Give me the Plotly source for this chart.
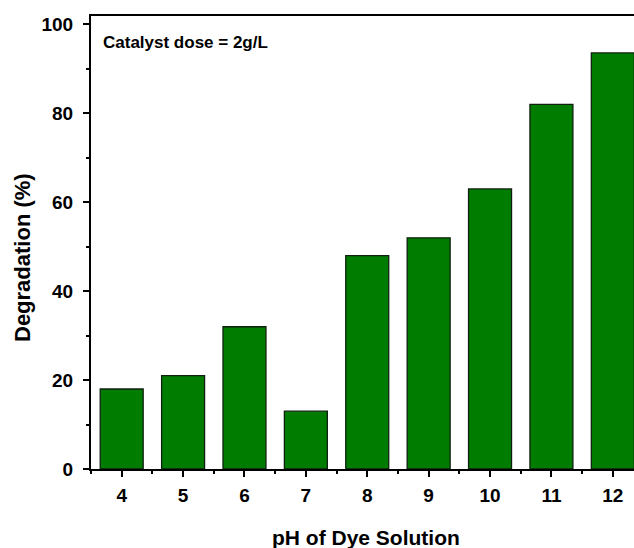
import plotly.graph_objects as go

ph_values = [4, 5, 6, 7, 8, 9, 10, 11, 12]
degradation = [18, 21, 32, 13, 48, 52, 63, 82, 93.6]
y_ticks = [0, 20, 40, 60, 80, 100]

W, H = 634, 548
ml, mt, mb, mr = 91, 16, 79, 0

fig = go.Figure()
fig.add_trace(go.Bar(
    x=ph_values, y=degradation, width=0.7,
    marker=dict(color="#007C00", line=dict(color="#102010", width=1.3)),
))

fam = "Liberation Sans, Arial, sans-serif"

fig.update_layout(
    width=W, height=H,
    margin=dict(l=ml, r=mr, t=mt, b=mb),
    plot_bgcolor="white", paper_bgcolor="white",
    showlegend=False,
    font=dict(family=fam, color="black"),
    xaxis=dict(
        range=[3.5, 12.345], tickvals=ph_values,
        ticktext=[f"<b>{v}</b>" for v in ph_values],
        showline=True, linecolor="black", linewidth=2, mirror=True,
        ticks="outside", ticklen=6, tickwidth=2, tickcolor="black",
        minor=dict(tickvals=[v + 0.5 for v in ph_values[:-1]] + [3.5], ticks="outside",
                   ticklen=3, tickwidth=2, tickcolor="black"),
        showgrid=False, zeroline=False, ticklabelstandoff=2,
        tickfont=dict(size=19, family=fam, color="black"),
    ),
    yaxis=dict(
        range=[0, 101.9], tickvals=y_ticks,
        ticktext=[f"<b>{v}</b>" for v in y_ticks],
        showline=True, linecolor="black", linewidth=2, mirror=False,
        ticks="outside", ticklen=6, tickwidth=2, tickcolor="black",
        minor=dict(tickvals=[10, 30, 50, 70, 90], ticks="outside",
                   ticklen=3, tickwidth=2, tickcolor="black"),
        showgrid=False, zeroline=False, ticklabelstandoff=6,
        tickfont=dict(size=19, family=fam, color="black"),
    ),
)

ph_ = H - mt - mb
fig.add_annotation(
    text="<b>Catalyst dose = 2g/L</b>", xref="paper", yref="paper",
    x=(101 - ml) / (W - ml - mr), y=1 - (43 - mt) / ph_,
    xanchor="left", yanchor="middle", showarrow=False,
    font=dict(size=17, family=fam, color="black"),
)
fig.add_annotation(
    text="<b>pH of Dye Solution</b>", xref="paper", yref="paper",
    x=(366 - ml) / (W - ml - mr), y=-(537 - (H - mb)) / ph_,
    xanchor="center", yanchor="middle", showarrow=False,
    font=dict(size=21, family=fam, color="black"),
)
fig.add_annotation(
    text="<b>Degradation (%)</b>", xref="paper", yref="paper",
    x=-(ml - 22) / (W - ml - mr), y=((H - mb) - 258) / ph_,
    xanchor="center", yanchor="middle", textangle=-90, showarrow=False,
    font=dict(size=22, family=fam, color="black"),
)

fig.write_html("out.html", config={"displayModeBar": False},
               post_script="document.body.style.margin='0';document.body.style.overflow='hidden';")
